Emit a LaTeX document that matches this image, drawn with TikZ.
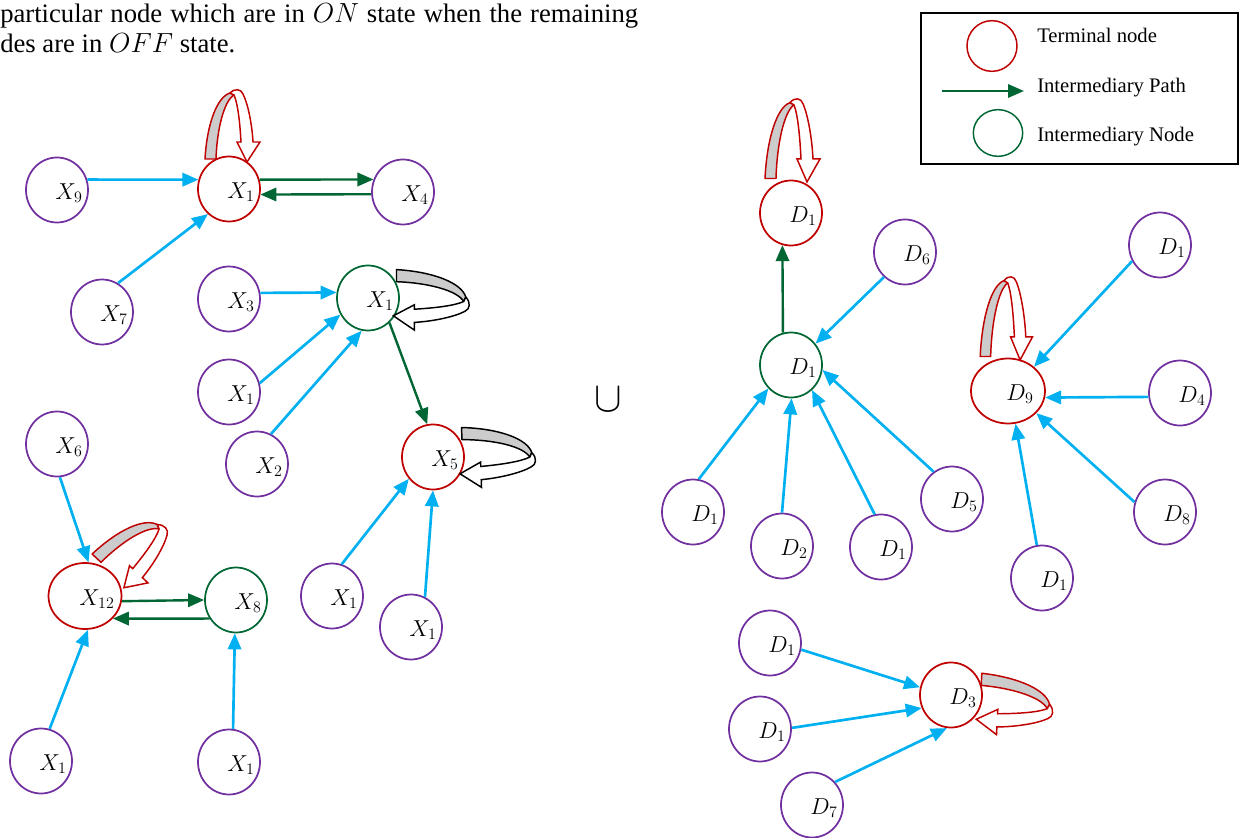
\documentclass[tikz,border=0pt]{standalone}
\usepackage{fontspec}
\setmainfont{Liberation Serif}
\usetikzlibrary{arrows.meta,shapes.geometric,calc}
\definecolor{pur}{HTML}{7030A0}
\definecolor{tred}{HTML}{C00000}
\definecolor{dgreen}{HTML}{006633}
\definecolor{cyanc}{HTML}{00B0F0}
\definecolor{loopgray}{HTML}{CCCCCC}
\newcommand\labfont{\fontsize{18.5}{20}\selectfont}
\newcommand\topfont{\fontsize{20}{24}\selectfont}
\newcommand\legfont{\fontsize{15.5}{18}\selectfont}
% #1 node, #2 offset, #3 rotate, #4 xscale, #5 yscale, #6 colour
\newcommand\selfloop[6]{%
 \begin{scope}[shift={($(#1.center)+(#2)$)}, rotate=#3, xscale=#4, yscale=#5]
  \filldraw[draw=#6, fill=loopgray, line width=1.1pt, line join=round]
    (-24,-30) .. controls (-22,-65) and (-12,-92) .. (1,-96) -- (5,-94)
    .. controls (-5,-88) and (-12,-60) .. (-13,-30) -- cycle;
  \filldraw[draw=#6, fill=white, line width=1.1pt, line join=miter]
    (1,-96) .. controls (6,-101) and (12,-100) .. (14,-95)
    .. controls (19,-85) and (23,-65) .. (24,-47) -- (31,-47) -- (18,-27)
    -- (8,-47) -- (12,-47) .. controls (11,-65) and (9,-85) .. (5,-94) -- cycle;
 \end{scope}}
\tikzset{
 nodebase/.style={ellipse, inner sep=0pt, minimum width=46.5pt, minimum height=48.75pt, line width=1.3pt, draw=#1},
 vn/.style={nodebase=pur},
 tn/.style={nodebase=tred},
 gn/.style={nodebase=dgreen},
 lab/.style={label={[font=\labfont, xshift=9pt, yshift=-2.5pt]center:#1}},
 carr/.style={draw=cyanc, line width=2pt, -{Triangle[length=12pt,width=10pt]}},
 garr/.style={draw=dgreen, line width=1.8pt, -{Triangle[length=12pt,width=10pt]}},
 legtext/.style={anchor=base west, font=\legfont, inner sep=0pt},
}
\begin{document}
\begin{tikzpicture}[x=0.75pt, y=-0.75pt]
\useasboundingbox (0,0) rectangle (1240,838);

% top text
\node[anchor=base west, font=\topfont, inner sep=0pt] (t1) at (0,23)
  {\hbox to 478.5pt{particular node which are in $ON$ state when the remaining}};
\node[anchor=base west, font=\topfont, inner sep=0pt] (t2) at (0,53) {des are in $OFF$ state.};

% left cluster nodes
\node[vn, lab={$X_{9}$}] (X9) at (57,190) {};
\node[tn, lab={$X_{1}$}] (X1r) at (229,189) {};
\node[vn, lab={$X_{4}$}] (X4) at (403,192) {};
\node[vn, lab={$X_{7}$}] (X7) at (102,312) {};
\node[vn, lab={$X_{3}$}] (X3) at (229,299) {};
\node[gn, lab={$X_{1}$}] (G1) at (368,298) {};
\node[vn, lab={$X_{1}$}] (X1b) at (229,392) {};
\node[vn, lab={$X_{2}$}] (X2) at (257,464) {};
\node[tn, lab={$X_{5}$}] (X5) at (433,457) {};
\node[vn, lab={$X_{6}$}] (X6) at (57,444) {};
\node[tn, minimum width=54.75pt, minimum height=49.5pt, lab={$X_{12}$}] (X12) at (85,596) {};
\node[gn, lab={$X_{8}$}] (X8) at (236,600) {};
\node[vn, lab={$X_{1}$}] (X1e) at (332,596) {};
\node[vn, lab={$X_{1}$}] (X1f) at (411,627) {};
\node[vn, lab={$X_{1}$}] (X1c) at (41,761) {};
\node[vn, lab={$X_{1}$}] (X1d) at (229,762) {};

% right cluster nodes
\node[tn, lab={$D_{1}$}] (DT) at (791,213) {};
\node[vn, lab={$D_{6}$}] (D6) at (905,252) {};
\node[gn, lab={$D_{1}$}] (GD) at (791,365) {};
\node[vn, lab={$D_{1}$}] (D1a) at (693,512) {};
\node[vn, lab={$D_{2}$}] (D2) at (782,546) {};
\node[vn, lab={$D_{1}$}] (D1b) at (881,547) {};
\node[vn, lab={$D_{5}$}] (D5) at (952,499) {};
\node[tn, minimum width=55.5pt, lab={$D_{9}$}] (D9) at (1008,391) {};
\node[vn, lab={$D_{1}$}] (D1c) at (1160,245) {};
\node[vn, lab={$D_{4}$}] (D4) at (1180,393) {};
\node[vn, lab={$D_{8}$}] (D8) at (1165,512) {};
\node[vn, lab={$D_{1}$}] (D1d) at (1042,578) {};
\node[vn, lab={$D_{1}$}] (D1e) at (770,643) {};
\node[vn, lab={$D_{1}$}] (D1f) at (760,729) {};
\node[vn, lab={$D_{7}$}] (D7) at (812,805) {};
\node[tn, lab={$D_{3}$}] (D3) at (951,695) {};

% union
\node[font=\normalsize, inner sep=0pt, transform shape, xscale=3.1, yscale=3.2] (cup) at (608,400) {$\cup$};

% left edges
\draw[carr] (X9.19) -- (X1r.163);
\draw[carr] (X7.61) -- (X1r.230);
\draw[garr] (X1r.17) -- (X4.157);
\draw[garr] (X4.184) -- (X1r.350);
\draw[carr] (X3.11) -- (G1.170);
\draw[carr] (X1b.16) -- (G1.211);
\draw[carr] (X2.65) -- (G1.259);
\draw[garr] (G1.311) -- (X5.100);
\draw[carr] (X1e.73) -- (X5.222);
\draw[carr] (X1f.65) -- (X5.270);
\draw[carr] (X6.275) -- (X12.84);
\draw[garr] (X12.352) -- (X8.180);
\draw[garr] (X8.215) -- (X12.321);
\draw[carr] (X1c.75) -- (X12.275);
\draw[carr] (X1d.83) -- (X8.268);

% right edges
\draw[garr] (GD.104) -- (DT.255);
\draw[carr] (D6.230) -- (GD.41);
\draw[carr] (D1a.80) -- (GD.226);
\draw[carr] (D2.90) -- (GD.271);
\draw[carr] (D1b.101) -- (GD.310);
\draw[carr] (D5.124) -- (GD.351);
\draw[carr] (D1c.210) -- (D9.43);
\draw[carr] (D4.187) -- (D9.350);
\draw[carr] (D8.162) -- (D9.322);
\draw[carr] (D1d.99) -- (D9.283);
\draw[carr] (D1e.348) -- (D3.166);
\draw[carr] (D1f.2) -- (D3.204);
\draw[carr] (D7.45) -- (D3.263);

% self loops
\selfloop{X1r}{0,0}{0}{1}{1}{tred}
\selfloop{DT}{-2,0}{0}{1}{1.15}{tred}
\selfloop{D9}{-5,0}{0}{0.95}{1.15}{tred}
\selfloop{G1}{-3,-2}{-90}{1.1}{1.05}{black}
\selfloop{X5}{-2,-2}{-88}{1.1}{1.05}{black}
\selfloop{X12}{6,-2}{-43}{1.1}{1}{tred}
\selfloop{D3}{-2,3}{-93}{1.1}{1.05}{tred}

% legend
\draw[line width=1.3pt] (921,13) rectangle (1238,164);
\node[tn, line width=1.1pt, minimum width=37.5pt, minimum height=38pt] (lt) at (992,46) {};
\node[gn, line width=1.1pt, minimum width=37pt, minimum height=35pt] (lg) at (998,133) {};
\coordinate (la1) at (942,91);
\coordinate (la2) at (1024,91);
\draw[garr] (la1) -- (la2);
\node[legtext] (lt1) at (1037,43) {Terminal node};
\node[legtext] (lt2) at (1037,93) {Intermediary Path};
\node[legtext] (lt3) at (1037,142) {Intermediary Node};
\end{tikzpicture}
\end{document}
